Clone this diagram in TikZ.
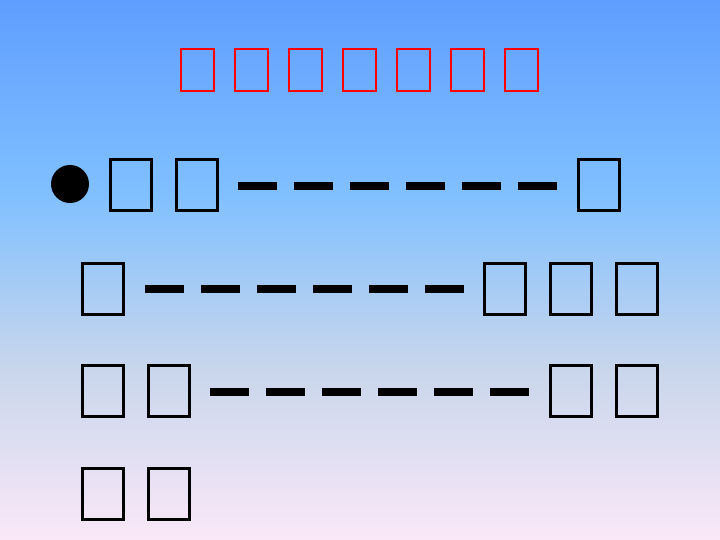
\documentclass[tikz,border=0pt]{standalone}
\usepackage{tikz}
\usetikzlibrary{positioning}
\definecolor{bgtop}{RGB}{95,158,255}
\definecolor{bgmid}{RGB}{128,192,255}
\definecolor{bggray}{RGB}{200,214,236}
\definecolor{bgbot}{RGB}{250,232,248}
\pgfdeclareverticalshading{slidebg}{100bp}{color(0bp)=(bgbot); color(25bp)=(bgbot); color(41bp)=(bggray); color(57bp)=(bgmid); color(75bp)=(bgtop); color(100bp)=(bgtop)}
\tikzset{
	glyph/.style = {draw=black, line width=3pt, minimum width=41pt, minimum height=51pt, inner sep=0pt},
	titleglyph/.style = {draw=red, line width=2pt, minimum width=33pt, minimum height=42pt, inner sep=0pt},
	dashbar/.style = {fill=black, minimum width=39pt, minimum height=8pt, inner sep=0pt},
	bullet/.style = {fill=black, circle, minimum size=38pt, inner sep=0pt}
	}
\begin{document}
\begin{tikzpicture}
		[x=1pt, y=-1pt]
		\useasboundingbox (0,0) rectangle (720,540);
		\shade[shading=slidebg] (0,0) rectangle (720,540);

		% title
		\foreach \i in {0,...,6}
			\node[titleglyph] (t\i) at (197.5+54*\i,70) {};

		% line 1
		\node[bullet] (b) at (70,184) {};
		\node[glyph] (a1) at (131,185.3) {};
		\node[glyph] (a2) at (197,185.3) {};
		\foreach \i in {0,...,5}
			\node[dashbar] (ad\i) at (257.5+56*\i,186) {};
		\node[glyph] (a3) at (599,185.3) {};

		% line 2
		\node[glyph] (c1) at (103,288.5) {};
		\foreach \i in {0,...,5}
			\node[dashbar] (cd\i) at (164.5+56*\i,289) {};
		\node[glyph] (c2) at (505,288.5) {};
		\node[glyph] (c3) at (571,288.5) {};
		\node[glyph] (c4) at (637,288.5) {};

		% line 3
		\node[glyph] (e1) at (103,391.3) {};
		\node[glyph] (e2) at (169,391.3) {};
		\foreach \i in {0,...,5}
			\node[dashbar] (ed\i) at (229.5+56*\i,392) {};
		\node[glyph] (e3) at (571,391.3) {};
		\node[glyph] (e4) at (637,391.3) {};

		% line 4
		\node[glyph] (f1) at (103,494) {};
		\node[glyph] (f2) at (169,494) {};
	\end{tikzpicture}
\end{document}
